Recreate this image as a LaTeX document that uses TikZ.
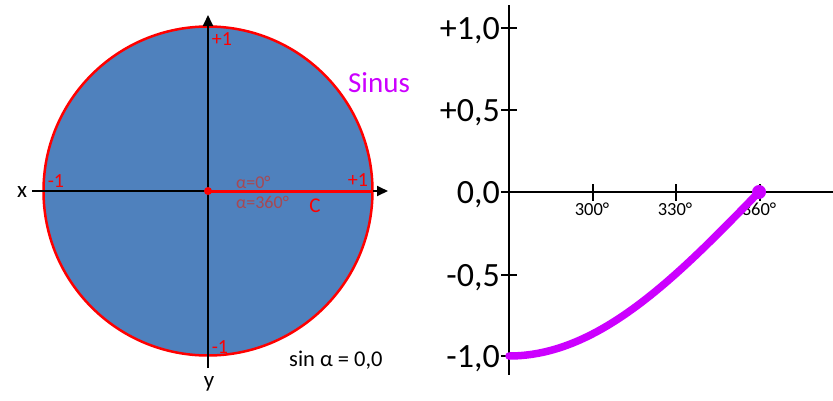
\documentclass[tikz,border=0pt]{standalone}
\usepackage{fontspec}
\setmainfont{Carlito}
\usetikzlibrary{arrows.meta}
\definecolor{circblue}{RGB}{79,129,189}
\definecolor{sinmag}{RGB}{204,0,255}
\definecolor{alphared}{RGB}{168,72,82}
\newcommand{\fs}[1]{\fontsize{#1}{#1}\selectfont}
\begin{document}
\begin{tikzpicture}[x=1pt,y=-1pt,
  axisline/.style={black, line width=1.8pt},
  arrowaxis/.style={axisline, -{Triangle[length=11pt,width=10pt]}},
  redlbl/.style={text=red, font=\fs{20}, inner sep=0pt, anchor=base},
  alphalbl/.style={text=alphared, font=\fs{18}, inner sep=0pt, anchor=base west},
  ylbl/.style={font=\fs{34}, inner sep=0pt, anchor=base east},
  xlbl/.style={font=\fs{18.5}, inner sep=0pt, anchor=base},
  ticks/.style={black, line width=1.8pt}]
\useasboundingbox (0,0) rectangle (833,400);
\fill[white] (0,0) rectangle (833,400);
% ---------- unit circle ----------
\coordinate (O) at (208,191);
\filldraw[fill=circblue, draw=red, line width=2.5pt] (O) circle (164.5);
\coordinate (xl) at (32,191);
\coordinate (xr) at (388,191);
\coordinate (yt) at (208,15);
\coordinate (yb) at (208,368);
\draw[arrowaxis] (xl) -- (xr);
\draw[arrowaxis] (yb) -- (yt);
\coordinate (R) at (373,191);
\draw[red, line width=3pt] (O) -- (R);
\fill[red] (O) circle (4);
\node[redlbl] (ptop) at (222,45) {+1};
\node[redlbl] (pleft) at (56,187) {-1};
\node[redlbl] (pright) at (358,186) {+1};
\node[redlbl] (pbot) at (220,353) {-1};
\node[alphalbl] (a0) at (236,188) {α=0°};
\node[alphalbl] (a360) at (236,208) {α=360°};
\node[text=red, font=\fs{21}, inner sep=0pt, anchor=base] (C) at (315,212) {C};
\node[text=sinmag, font=\fs{29}, inner sep=0pt, anchor=base] (sinus) at (379,92) {Sinus};
\node[font=\fs{22.5}, inner sep=0pt, anchor=base west] (sinval) at (289,366) {sin α = 0,0};
\node[font=\fs{23}, inner sep=0pt, anchor=base] (xlab) at (22,197) {x};
\node[font=\fs{23}, inner sep=0pt, anchor=base] (ylab) at (209,387) {y};
% ---------- sine graph ----------
\coordinate (vt) at (509,5);
\coordinate (vb) at (509,375);
\coordinate (h0) at (509,192);
\coordinate (hr) at (833,192);
\draw[axisline] (vt) -- (vb);
\draw[axisline] (h0) -- (hr);
\foreach \yy/\lab [count=\i] in {28/{+1,0},110/{+0,5},192/{0,0},275/{-0,5},356/{-1,0}}{
  \draw[ticks] (501,\yy) -- (517,\yy);
  \node[ylbl] (yl\i) at (500,\yy+11) {\lab};
}
\foreach \xx/\lab [count=\i] in {593/300°,676/330°,760/360°}{
  \draw[ticks] (\xx,184) -- (\xx,201);
  \node[xlbl] (xt\i) at (\xx-1,215) {\lab};
}
\begin{scope}[shift={(509,192)}, x=2.77778pt, y=-164pt]
  \draw[sinmag, line width=7.5pt, line cap=round]
    plot[domain=270:360, samples=91] (\x-270, {-sin(\x)});
\end{scope}
\fill[sinmag] (759,192) circle (7);
\end{tikzpicture}
\end{document}
